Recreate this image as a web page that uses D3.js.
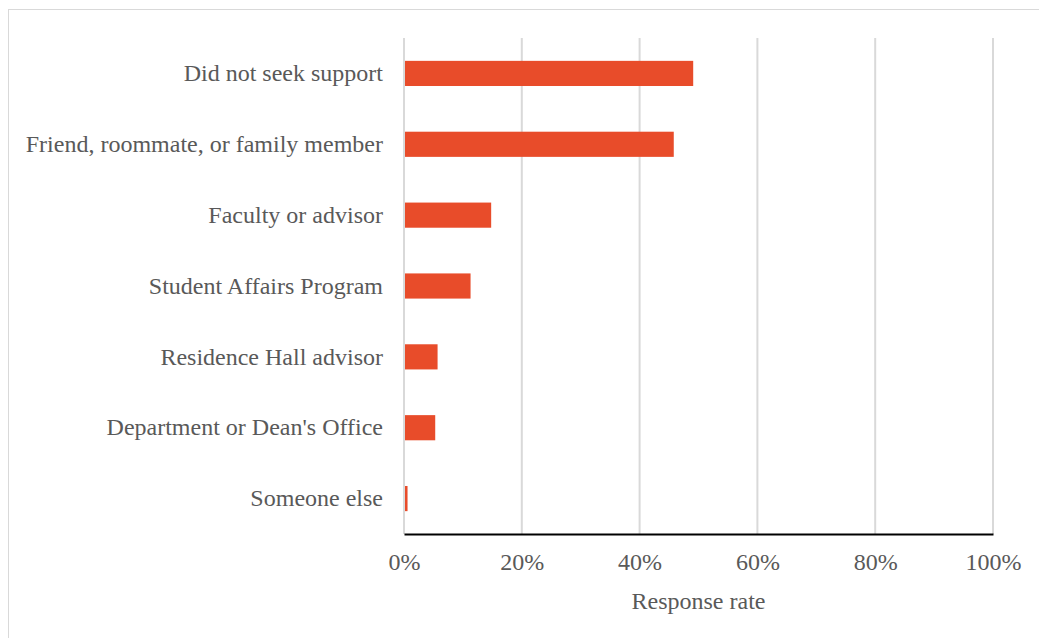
<!DOCTYPE html>
<html>
<head>
<meta charset="utf-8">
<script src="https://cdn.jsdelivr.net/npm/d3@7"></script>
<style>
  html, body { margin: 0; padding: 0; background: #fff; }
  svg { display: block; }
</style>
</head>
<body>
<svg id="chart" width="1039" height="638"></svg>
<script>
// Where students turned for support, share of respondents
const categories = [
  "Did not seek support",
  "Friend, roommate, or family member",
  "Faculty or advisor",
  "Student Affairs Program",
  "Residence Hall advisor",
  "Department or Dean's Office",
  "Someone else"
];
const responseRates = [0.491, 0.458, 0.148, 0.113, 0.057, 0.053, 0.006];
const tickValues = [0, 0.2, 0.4, 0.6, 0.8, 1.0];
const axisTitle = "Response rate";

const svg = d3.select("#chart");
const W = 1039, H = 638;
const margin = { left: 404, right: W - 993, top: 38, bottom: H - 534 };
const font = "'Liberation Serif', 'Times New Roman', serif";
const textColor = "#595959";
const fontSize = 24;

// outer frame
svg.append("rect")
  .attr("x", 8.5).attr("y", 9.5)
  .attr("width", W).attr("height", H)
  .attr("fill", "#fff")
  .attr("stroke", "#d9d9d9").attr("stroke-width", 1);

const x = d3.scaleLinear().domain([0, 1]).range([margin.left, W - margin.right]);
const y = d3.scaleBand().domain(categories)
  .range([margin.top, H - margin.bottom])
  .paddingInner(0.645).paddingOuter(0.3225);

// vertical gridlines
svg.append("g")
  .selectAll("line")
  .data(tickValues)
  .join("line")
  .attr("x1", d => x(d)).attr("x2", d => x(d))
  .attr("y1", margin.top).attr("y2", H - margin.bottom)
  .attr("stroke", "#d9d9d9").attr("stroke-width", 2);

// bars
svg.append("g")
  .selectAll("rect")
  .data(categories.map((c, i) => ({ c, v: responseRates[i] })))
  .join("rect")
  .attr("x", x(0) + 1)
  .attr("y", d => y(d.c))
  .attr("width", d => x(d.v) - x(0) - 1)
  .attr("height", y.bandwidth())
  .attr("fill", "#e84c2a");

// bottom axis
const xAxis = d3.axisBottom(x)
  .tickValues(tickValues)
  .tickFormat(d3.format(".0%"))
  .tickSize(0)
  .tickPadding(19);
const gx = svg.append("g")
  .attr("transform", `translate(0,${H - margin.bottom})`)
  .call(xAxis);
gx.select(".domain").attr("stroke", "#000").attr("stroke-width", 2);
gx.selectAll("text")
  .attr("font-family", font).attr("font-size", fontSize)
  .attr("fill", textColor);

// category axis
const yAxis = d3.axisLeft(y).tickSize(0).tickPadding(21);
const gy = svg.append("g")
  .attr("transform", `translate(${margin.left},0)`)
  .call(yAxis);
gy.select(".domain").remove();
gy.selectAll("text")
  .attr("font-family", font).attr("font-size", fontSize)
  .attr("fill", textColor);

// axis title
svg.append("text")
  .attr("x", (x(0) + x(1)) / 2)
  .attr("y", 609)
  .attr("text-anchor", "middle")
  .attr("font-family", font).attr("font-size", fontSize)
  .attr("fill", textColor)
  .text(axisTitle);
</script>
</body>
</html>
